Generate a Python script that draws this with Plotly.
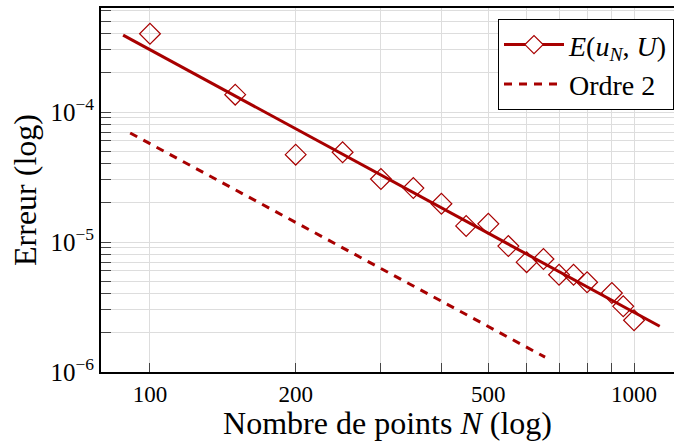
import numpy as np
import plotly.graph_objects as go

# Erreur mesurée pour chaque nombre de points N
n_points = [100, 150, 200, 250, 300, 350, 400, 450, 500, 550, 600, 650,
            700, 750, 800, 900, 950, 1000]
erreur = [4.0e-4, 1.36e-4, 4.7e-5, 4.9e-5, 3.05e-5, 2.6e-5, 1.97e-5, 1.33e-5,
          1.38e-5, 9.3e-6, 7.0e-6, 7.4e-6, 5.6e-6, 5.6e-6, 4.9e-6, 4.05e-6,
          3.2e-6, 2.5e-6]

# Droite de régression (extrémités)
fit_n = [88, 1130]
fit_err = [3.9e-4, 2.25e-6]

# Pente de référence d'ordre 2 (extrémités)
ordre2_n = [91, 655]
ordre2_err = [6.9e-5, 1.3e-6]

x_tickvals = [100, 200, 300, 400, 500, 600, 700, 800, 900, 1000]
x_ticktext = ["100", "200", "", "", "500", "", "", "", "", "1000"]
y_tickvals = [1e-6, 1e-5, 1e-4]
y_ticktext = ["10<sup>−6</sup>", "10<sup>−5</sup>", "10<sup>−4</sup>"]

RED = "#A80000"
FONT = "Liberation Serif"

fig = go.Figure()

fig.add_trace(go.Scatter(
    x=fit_n, y=fit_err, mode="lines",
    line=dict(color=RED, width=3),
    showlegend=False, hoverinfo="skip",
))
fig.add_trace(go.Scatter(
    x=n_points, y=erreur, mode="markers",
    marker=dict(symbol="diamond-open", size=16, color=RED,
                line=dict(width=1.2, color=RED)),
    showlegend=False,
))
# Entrée de légende combinée ligne + losange
fig.add_trace(go.Scatter(
    x=[None], y=[None], mode="lines+markers",
    line=dict(color=RED, width=3),
    marker=dict(symbol="diamond", size=14, color="white",
                line=dict(width=1.2, color=RED)),
    name="<i>E</i>(<i>u</i><sub><i>N</i></sub>, <i>U</i>)",
))
fig.add_trace(go.Scatter(
    x=ordre2_n, y=ordre2_err, mode="lines",
    line=dict(color=RED, width=3, dash="8px,7px"),
    name="Ordre 2",
))

fig.update_layout(
    width=674, height=441,
    margin=dict(l=101, r=0, t=8, b=69),
    paper_bgcolor="white", plot_bgcolor="white",
    font=dict(family=FONT, size=23, color="black"),
    legend=dict(
        x=1, y=0.97, xanchor="right", yanchor="top",
        bgcolor="white", bordercolor="black", borderwidth=1,
        font=dict(family=FONT, size=28),
        itemwidth=60,
    ),
    xaxis=dict(
        type="log",
        range=[1.8988, 3.0826],
        tickvals=x_tickvals, ticktext=x_ticktext,
        ticks="inside", ticklen=9, tickcolor="#444", tickwidth=1.2,
        showgrid=True, gridcolor="#DDDDDD", gridwidth=1.2,
        showline=True, linecolor="black", linewidth=2, mirror=True,
        zeroline=False,
        tickfont=dict(family=FONT, size=23),
        title=dict(text="Nombre de points <i>N</i> (log)",
                   font=dict(family=FONT, size=32), standoff=4),
    ),
    yaxis=dict(
        type="log",
        range=[-6, -3.2],
        tickvals=y_tickvals, ticktext=y_ticktext,
        ticks="inside", ticklen=10, tickcolor="#444", tickwidth=1.2,
        showgrid=True, gridcolor="#DDDDDD", gridwidth=1.2,
        showline=True, linecolor="black", linewidth=2, mirror=False,
        zeroline=False,
        tickfont=dict(family=FONT, size=25),
        minor=dict(ticks="inside", ticklen=10, tickcolor="#444",
                   showgrid=True, gridcolor="#DDDDDD", gridwidth=1.2,
                   dtick="D1"),
        title=dict(text="Erreur (log)", font=dict(family=FONT, size=32),
                   standoff=4),
    ),
)

fig.write_html("out.html")
